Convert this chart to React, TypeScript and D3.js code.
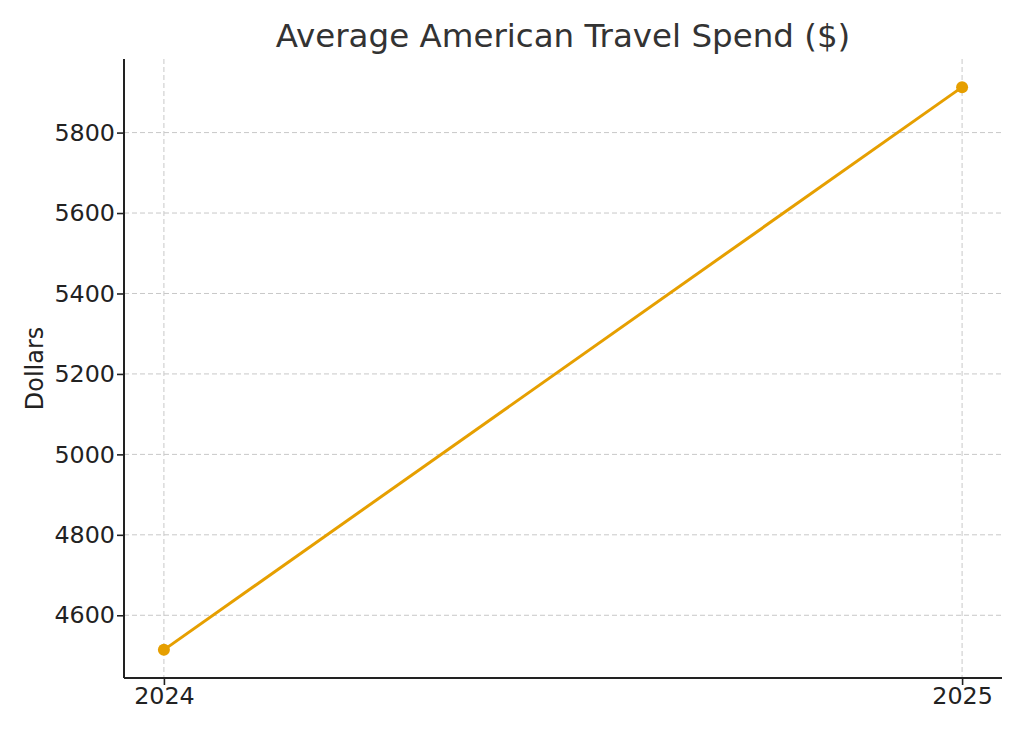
import { useRef, useEffect } from "react";
import * as d3 from "d3";

const years = ["2024", "2025"];
const spend = [4514, 5913];
const yTicks = [4600, 4800, 5000, 5200, 5400, 5600, 5800];

const W = 1024;
const H = 731;
const margin = { top: 59, right: 22, bottom: 53, left: 124 };

const App = () => {
  const svgRef = useRef<SVGSVGElement>(null);

  useEffect(() => {
    const svg = d3.select(svgRef.current);
    svg.selectAll("*").remove();

    const iw = W - margin.left - margin.right;
    const ih = H - margin.top - margin.bottom;

    // matplotlib-style 5% padding on both axes
    const xi = years.map((_, i) => i);
    const xPad = (xi[xi.length - 1] - xi[0]) * 0.05;
    const x = d3
      .scaleLinear()
      .domain([xi[0] - xPad, xi[xi.length - 1] + xPad])
      .range([0, iw]);

    const [ymin, ymax] = d3.extent(spend) as [number, number];
    const yPad = (ymax - ymin) * 0.05;
    const y = d3
      .scaleLinear()
      .domain([ymin - yPad, ymax + yPad])
      .range([ih, 0]);

    const g = svg
      .append("g")
      .attr("transform", `translate(${margin.left},${margin.top})`);

    // grid
    g.append("g")
      .selectAll("line")
      .data(yTicks)
      .join("line")
      .attr("x1", 0)
      .attr("x2", iw)
      .attr("y1", (d) => y(d))
      .attr("y2", (d) => y(d))
      .attr("stroke", "#c8c8c8")
      .attr("stroke-width", 1)
      .attr("stroke-dasharray", "5,3");
    g.append("g")
      .selectAll("line")
      .data(xi)
      .join("line")
      .attr("x1", (d) => x(d))
      .attr("x2", (d) => x(d))
      .attr("y1", 0)
      .attr("y2", ih)
      .attr("stroke", "#c8c8c8")
      .attr("stroke-width", 1)
      .attr("stroke-dasharray", "5,3");

    // axes
    const yAxis = g
      .append("g")
      .call(
        d3
          .axisLeft(y)
          .tickValues(yTicks)
          .tickSize(7)
          .tickPadding(2)
          .tickFormat((d) => String(d))
      );
    const xAxis = g
      .append("g")
      .attr("transform", `translate(0,${ih})`)
      .call(
        d3
          .axisBottom(x)
          .tickValues(xi)
          .tickSize(7)
          .tickPadding(2)
          .tickFormat((d) => years[d as number])
      );
    [yAxis, xAxis].forEach((a) => {
      a.selectAll(".tick line").attr("stroke", "#222").attr("stroke-width", 1.6);
      a.selectAll(".tick text")
        .attr("fill", "#222")
        .style("font-family", "DejaVu Sans")
        .style("font-size", "23.8px");
    });
    yAxis
      .select(".domain")
      .attr("stroke", "#222")
      .attr("stroke-width", 2)
      .attr("d", `M0,0V${ih}`);
    xAxis
      .select(".domain")
      .attr("stroke", "#222")
      .attr("stroke-width", 2)
      .attr("d", `M0,0H${iw}`);

    // line
    const line = d3
      .line<number>()
      .x((_, i) => x(i))
      .y((d) => y(d));
    g.append("path")
      .datum(spend)
      .attr("fill", "none")
      .attr("stroke", "#e69f00")
      .attr("stroke-width", 3)
      .attr("d", line);
    g.append("g")
      .selectAll("circle")
      .data(spend)
      .join("circle")
      .attr("cx", (_, i) => x(i))
      .attr("cy", (d) => y(d))
      .attr("r", 6)
      .attr("fill", "#e69f00");

    // title
    svg
      .append("text")
      .attr("x", margin.left + iw / 2)
      .attr("y", 47)
      .attr("text-anchor", "middle")
      .attr("fill", "#333")
      .style("font-family", "DejaVu Sans")
      .style("font-size", "32.5px")
      .text("Average American Travel Spend ($)");

    // y label
    svg
      .append("text")
      .attr("transform", `translate(43,${margin.top + ih / 2}) rotate(-90)`)
      .attr("text-anchor", "middle")
      .attr("fill", "#222")
      .style("font-family", "DejaVu Sans")
      .style("font-size", "24px")
      .text("Dollars");
  }, []);

  return (
    <svg
      ref={svgRef}
      width={W}
      height={H}
      style={{ position: "absolute", left: 0, top: 0, background: "#fff" }}
    ></svg>
  );
};

export default App;
